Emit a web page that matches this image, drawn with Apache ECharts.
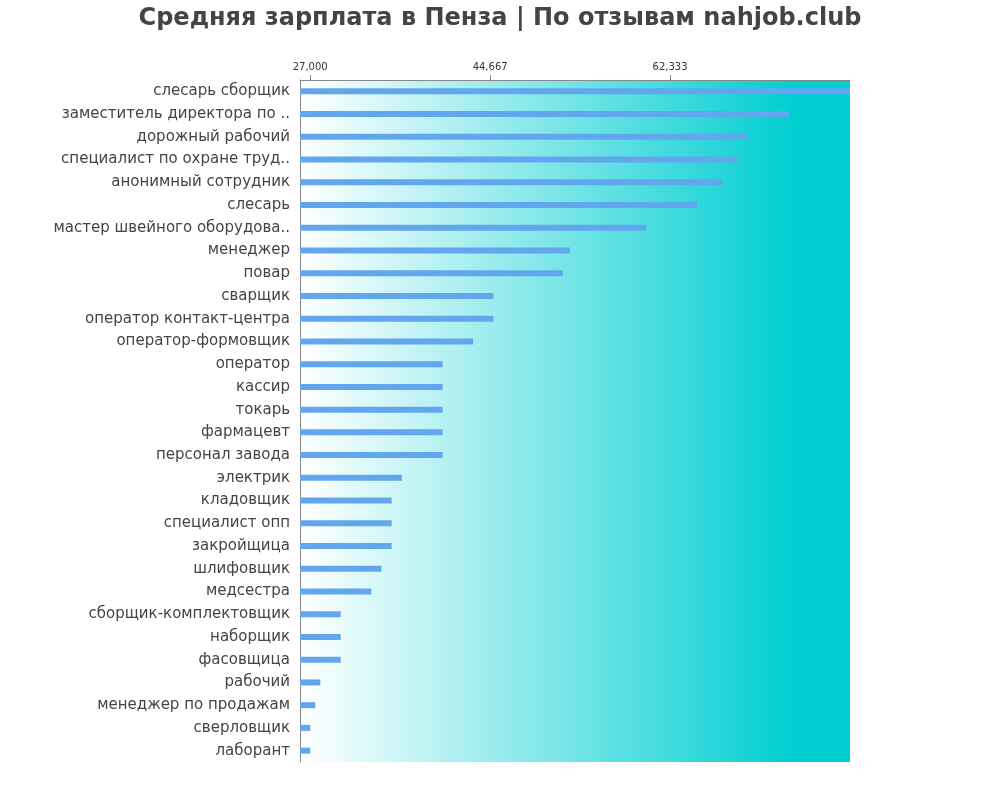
<!DOCTYPE html>
<html>
<head>
<meta charset="utf-8">
<script src="https://cdn.jsdelivr.net/npm/echarts@6/dist/echarts.min.js"></script>
<style>html,body{margin:0;padding:0;background:#fff}#chart{width:1000px;height:800px}</style>
</head>
<body>
<div id="chart"></div>
<script>
var categories = ['слесарь сборщик', 'заместитель директора по ..', 'дорожный рабочий', 'специалист по охране труд..',
  'анонимный сотрудник', 'слесарь', 'мастер швейного оборудова..', 'менеджер', 'повар', 'сварщик',
  'оператор контакт-центра', 'оператор-формовщик', 'оператор', 'кассир', 'токарь', 'фармацевт',
  'персонал завода', 'электрик', 'кладовщик', 'специалист опп', 'закройщица', 'шлифовщик', 'медсестра',
  'сборщик-комплектовщик', 'наборщик', 'фасовщица', 'рабочий', 'менеджер по продажам', 'сверловщик', 'лаборант'];
var salaries = [80000, 74000, 70000, 69000, 67500, 65000, 60000, 52500, 51800, 45000,
  45000, 43000, 40000, 40000, 40000, 40000, 40000, 36000, 35000, 35000, 35000, 34000, 33000,
  30000, 30000, 30000, 28000, 27500, 27000, 27000];
var tickValues = [27000, 44667, 62333];

var chart = echarts.init(document.getElementById('chart'));
chart.setOption({
  animation: false,
  title: {
    text: 'Средняя зарплата в Пенза | По отзывам nahjob.club',
    left: 'center', top: 2,
    textStyle: { fontFamily: 'DejaVu Sans', fontSize: 24, fontWeight: 'bold', color: '#444' }
  },
  grid: {
    left: 300, right: 150, top: 80, bottom: 38,
    show: true, borderWidth: 0,
    backgroundColor: new echarts.graphic.LinearGradient(0, 0, 1, 0, [
      { offset: 0, color: '#ffffff' },
      { offset: 0.9, color: '#00ced1' },
      { offset: 1, color: '#00ced1' }
    ])
  },
  xAxis: {
    type: 'value', position: 'top', min: 26000, max: 80000,
    axisLine: { show: true, lineStyle: { color: '#888' } },
    axisTick: { show: true, customValues: tickValues, lineStyle: { color: '#888' } },
    axisLabel: { customValues: tickValues, fontFamily: 'DejaVu Sans', fontSize: 10, color: '#333' },
    splitLine: { show: false }
  },
  yAxis: {
    type: 'category', inverse: true, data: categories,
    axisLine: { show: true, lineStyle: { color: '#888' } },
    axisTick: { show: false },
    axisLabel: { fontFamily: 'DejaVu Sans', fontSize: 15, color: '#444', margin: 10 }
  },
  series: [{
    type: 'bar', data: salaries, barWidth: 6,
    itemStyle: { color: '#62a7ee' }
  }]
});
</script>
</body>
</html>
